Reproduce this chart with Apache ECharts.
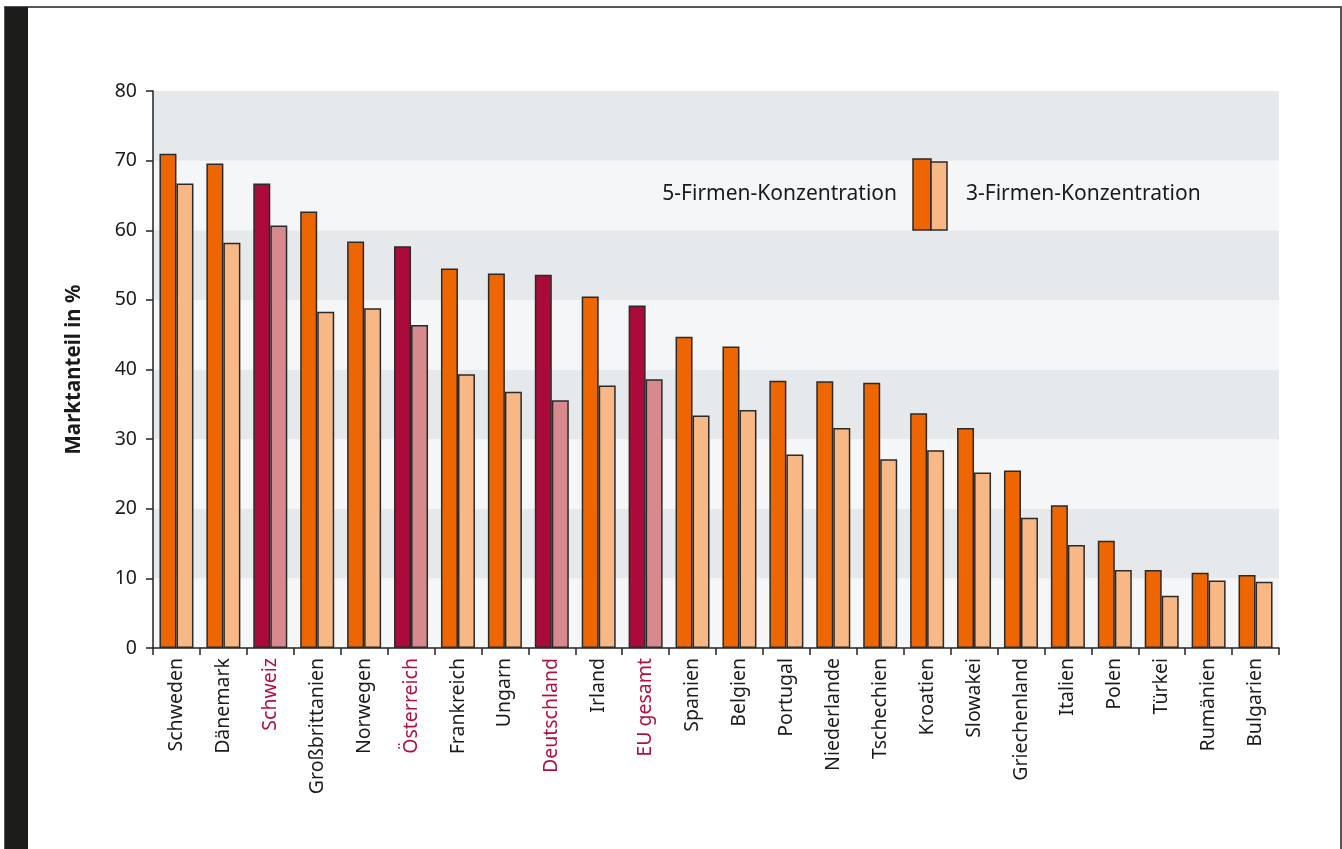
<!DOCTYPE html>
<html>
<head>
<meta charset="utf-8">
<script src="https://cdn.jsdelivr.net/npm/echarts@6/dist/echarts.min.js"></script>
<style>
html,body{margin:0;padding:0;background:#fff;}
#c{width:1342px;height:849px;}
</style>
</head>
<body>
<div id="c"></div>
<script>
const categories = ['Schweden','Dänemark','Schweiz','Großbrittanien','Norwegen','Österreich','Frankreich','Ungarn','Deutschland','Irland','EU gesamt','Spanien','Belgien','Portugal','Niederlande','Tschechien','Kroatien','Slowakei','Griechenland','Italien','Polen','Türkei','Rumänien','Bulgarien'];
const fiveFirm = [71.0,69.6,66.7,62.7,58.4,57.7,54.5,53.8,53.6,50.5,49.2,44.7,43.3,38.4,38.3,38.1,33.7,31.6,25.5,20.5,15.4,11.2,10.8,10.5];
const threeFirm = [66.7,58.2,60.7,48.3,48.8,46.4,39.3,36.8,35.6,37.7,38.6,33.4,34.2,27.8,31.6,27.1,28.4,25.2,18.7,14.8,11.2,7.5,9.7,9.5];
const highlighted = ['Schweiz','Österreich','Deutschland','EU gesamt'];
const yTicks = [0,10,20,30,40,50,60,70,80];
const seriesNames = ['5-Firmen-Konzentration','3-Firmen-Konzentration'];

const C5 = '#ee6602', C3 = '#f7b886', H5 = '#ab0b3a', H3 = '#d68a8e';
const FONT = 'Noto Sans';

function build(vals, normal, hi) {
  return vals.map((v, i) => ({
    value: v,
    itemStyle: { color: highlighted.includes(categories[i]) ? hi : normal }
  }));
}

const chart = echarts.init(document.getElementById('c'), null, {renderer: 'canvas'});
chart.setOption({
  animation: false,
  backgroundColor: '#fff',
  grid: { left: 153, right: 63, top: 91, bottom: 201, containLabel: false },
  xAxis: {
    type: 'category',
    data: categories,
    axisLine: { lineStyle: { color: '#222', width: 1.5 } },
    axisTick: { show: true, length: 7, lineStyle: { color: '#222', width: 1.5 } },
    axisLabel: {
      rotate: 90, margin: 10, fontSize: 19.5, fontFamily: FONT, color: '#1a1a1a',
      formatter: v => highlighted.includes(v) ? '{h|' + v + '}' : v,
      rich: { h: { color: '#b0103f', fontSize: 19.5, fontFamily: FONT } }
    },
    splitLine: { show: false }
  },
  yAxis: {
    type: 'value', min: yTicks[0], max: yTicks[yTicks.length-1], interval: 10,
    name: 'Marktanteil in %', nameLocation: 'middle', nameGap: 68, nameRotate: 90,
    nameTextStyle: { fontSize: 20.5, fontWeight: 'bold', fontFamily: FONT, color: '#1a1a1a' },
    axisLine: { show: true, lineStyle: { color: '#222', width: 1.5 } },
    axisTick: { show: true, length: 7, lineStyle: { color: '#222', width: 1.5 } },
    axisLabel: { fontSize: 19.5, fontFamily: FONT, color: '#1a1a1a', margin: 16 },
    splitLine: { show: false },
    splitArea: { show: true, areaStyle: { color: ['#f5f6f8', '#e6e9ec'] } }
  },
  series: [
    { name: seriesNames[0], type: 'bar', data: build(fiveFirm, C5, H5), barWidth: 17, barGap: '0%',
      itemStyle: { borderColor: '#2a2a2a', borderWidth: 1.5 } },
    { name: seriesNames[1], type: 'bar', data: build(threeFirm, C3, H3), barWidth: 17, barGap: '0%',
      itemStyle: { borderColor: '#2a2a2a', borderWidth: 1.5 } }
  ],
  graphic: [
    { type: 'rect', shape: { x: 5, y: 7, width: 1336, height: 900 }, style: { fill: 'none', stroke: '#555', lineWidth: 2 }, silent: true },
    { type: 'rect', shape: { x: 5, y: 7, width: 23, height: 900 }, style: { fill: '#1c1c1a' }, silent: true },
    { type: 'rect', z: 100, shape: { x: 913, y: 159, width: 18, height: 71 }, style: { fill: C5, stroke: '#2a2a2a', lineWidth: 1.5 } },
    { type: 'rect', z: 100, shape: { x: 931, y: 162, width: 16, height: 68 }, style: { fill: C3, stroke: '#2a2a2a', lineWidth: 1.5 } },
    { type: 'text', z: 100, x: 897, y: 194, style: { text: seriesNames[0], fontSize: 21, fontFamily: FONT, fill: '#1a1a1a', align: 'right', verticalAlign: 'middle' } },
    { type: 'text', z: 100, x: 966, y: 194, style: { text: seriesNames[1], fontSize: 21, fontFamily: FONT, fill: '#1a1a1a', align: 'left', verticalAlign: 'middle' } }
  ]
});
</script>
</body>
</html>
